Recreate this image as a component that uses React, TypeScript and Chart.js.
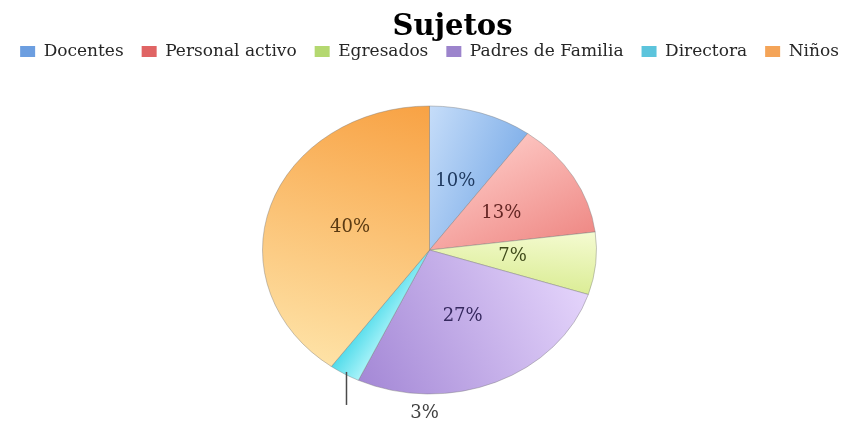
import React, { useEffect, useRef } from 'react';
import { Chart, registerables } from 'chart.js';

Chart.register(...registerables);

const TITLE = 'Sujetos';
const CATEGORIES = ['Docentes', 'Personal activo', 'Egresados', 'Padres de Familia', 'Directora', 'Niños'];
const PERCENTS = [10, 13, 7, 27, 3, 40];

const LIGHT = ['#c6ddf9', '#fcc2be', '#f5fbd2', '#e4d4fb', '#aaf3f9', '#fee2a6'];
const DARK = ['#84b2ea', '#ef8a86', '#dbed96', '#a488d6', '#50dbea', '#f8a244'];
const MARKER = ['#6c9ee0', '#e06464', '#b4d870', '#9c84cc', '#5cc4dc', '#f4a458'];
const LABEL_COLORS = ['#1f3a60', '#632523', '#3f4a1a', '#35285e', '#404040', '#5a3a12'];

const FONT = '"DejaVu Serif", serif';
const RADIUS = 167;
const SQUASH = 144 / 167;
const TITLE_OFFSET_X = 23;
const SMALL_SLICE = 5;

const total = PERCENTS.reduce((a, b) => a + b, 0);

function sliceGradient(c: any) {
  const i = c.dataIndex;
  const chart = c.chart;
  const area = chart.chartArea;
  if (!area || i === undefined) return LIGHT[i ?? 0];
  const cx = (area.left + area.right) / 2;
  const cy = (area.top + area.bottom) / 2;
  let before = 0;
  for (let k = 0; k < i; k++) before += PERCENTS[k];
  const a0 = -Math.PI / 2 + (before / total) * Math.PI * 2;
  const a1 = a0 + (PERCENTS[i] / total) * Math.PI * 2;
  const g = chart.ctx.createLinearGradient(
    cx + RADIUS * Math.cos(a0), cy + RADIUS * Math.sin(a0),
    cx + RADIUS * Math.cos(a1), cy + RADIUS * Math.sin(a1)
  );
  g.addColorStop(0, LIGHT[i]);
  g.addColorStop(1, DARK[i]);
  return g;
}

const ellipsePlugin = {
  id: 'ellipsePie',
  beforeDatasetsDraw(chart: any) {
    const arc = chart.getDatasetMeta(0).data[0];
    const ctx = chart.ctx;
    ctx.save();
    ctx.translate(0, arc.y);
    ctx.scale(1, SQUASH);
    ctx.translate(0, -arc.y);
  },
  afterDatasetsDraw(chart: any) {
    const ctx = chart.ctx;
    ctx.restore();
    const meta = chart.getDatasetMeta(0);
    ctx.save();
    ctx.font = `18px ${FONT}`;
    ctx.textAlign = 'center';
    ctx.textBaseline = 'middle';
    meta.data.forEach((arc: any, i: number) => {
      const text = PERCENTS[i] + '%';
      if (PERCENTS[i] < SMALL_SLICE) {
        const mid = (arc.startAngle + arc.endAngle) / 2;
        const ex = arc.x + Math.cos(mid) * arc.outerRadius;
        const ey = arc.y + Math.sin(mid) * arc.outerRadius * SQUASH;
        ctx.strokeStyle = '#4a4a4a';
        ctx.lineWidth = 1.5;
        ctx.beginPath();
        ctx.moveTo(ex + 2, ey - 2);
        ctx.lineTo(ex + 2, ey + 31);
        ctx.stroke();
        ctx.fillStyle = LABEL_COLORS[i];
        ctx.fillText(text, ex + 80, ey + 39);
      } else {
        const p = arc.tooltipPosition(true);
        const sy = arc.y + (p.y - arc.y) * SQUASH;
        ctx.fillStyle = LABEL_COLORS[i];
        ctx.fillText(text, p.x, sy);
      }
    });
    ctx.restore();
  },
  afterDraw(chart: any) {
    const ctx = chart.ctx;
    ctx.save();
    ctx.font = `bold 29px ${FONT}`;
    ctx.fillStyle = '#000000';
    ctx.textAlign = 'center';
    ctx.textBaseline = 'alphabetic';
    ctx.fillText(TITLE, chart.width / 2 + TITLE_OFFSET_X, 35);
    ctx.restore();
  },
};

export default function App() {
  const ref = useRef<HTMLCanvasElement>(null);
  useEffect(() => {
    if (!ref.current) return;
    const baseLabels = (Chart as any).overrides.pie.plugins.legend.labels.generateLabels;
    const chart = new Chart(ref.current, {
      type: 'pie',
      data: {
        labels: CATEGORIES,
        datasets: [
          {
            data: PERCENTS,
            backgroundColor: sliceGradient as any,
            borderColor: 'rgba(120,120,120,0.45)',
            borderWidth: 1,
            radius: RADIUS,
            clip: false as any,
          } as any,
        ],
      },
      options: {
        animation: false,
        responsive: true,
        maintainAspectRatio: false,
        events: [],
        layout: { padding: { top: 25, bottom: 0, left: 0, right: 0 } },
        plugins: {
          title: { display: false },
          tooltip: { enabled: false },
          legend: {
            display: true,
            position: 'top',
            labels: {
              font: { family: FONT, size: 17 },
              color: '#262626',
              boxWidth: 15,
              boxHeight: 11,
              padding: 18,
              generateLabels: (ch: any) =>
                baseLabels(ch).map((l: any, i: number) => ({
                  ...l,
                  fillStyle: MARKER[i],
                  strokeStyle: MARKER[i],
                  lineWidth: 0,
                })),
            },
          },
        },
      },
      plugins: [ellipsePlugin],
    });
    return () => chart.destroy();
  }, []);
  return (
    <div style={{ position: 'absolute', left: 0, top: 0, width: 859, height: 422, overflow: 'hidden', background: '#ffffff' }}>
      <div style={{ position: 'relative', width: 859, height: 430 }}>
        <canvas ref={ref} />
      </div>
    </div>
  );
}
